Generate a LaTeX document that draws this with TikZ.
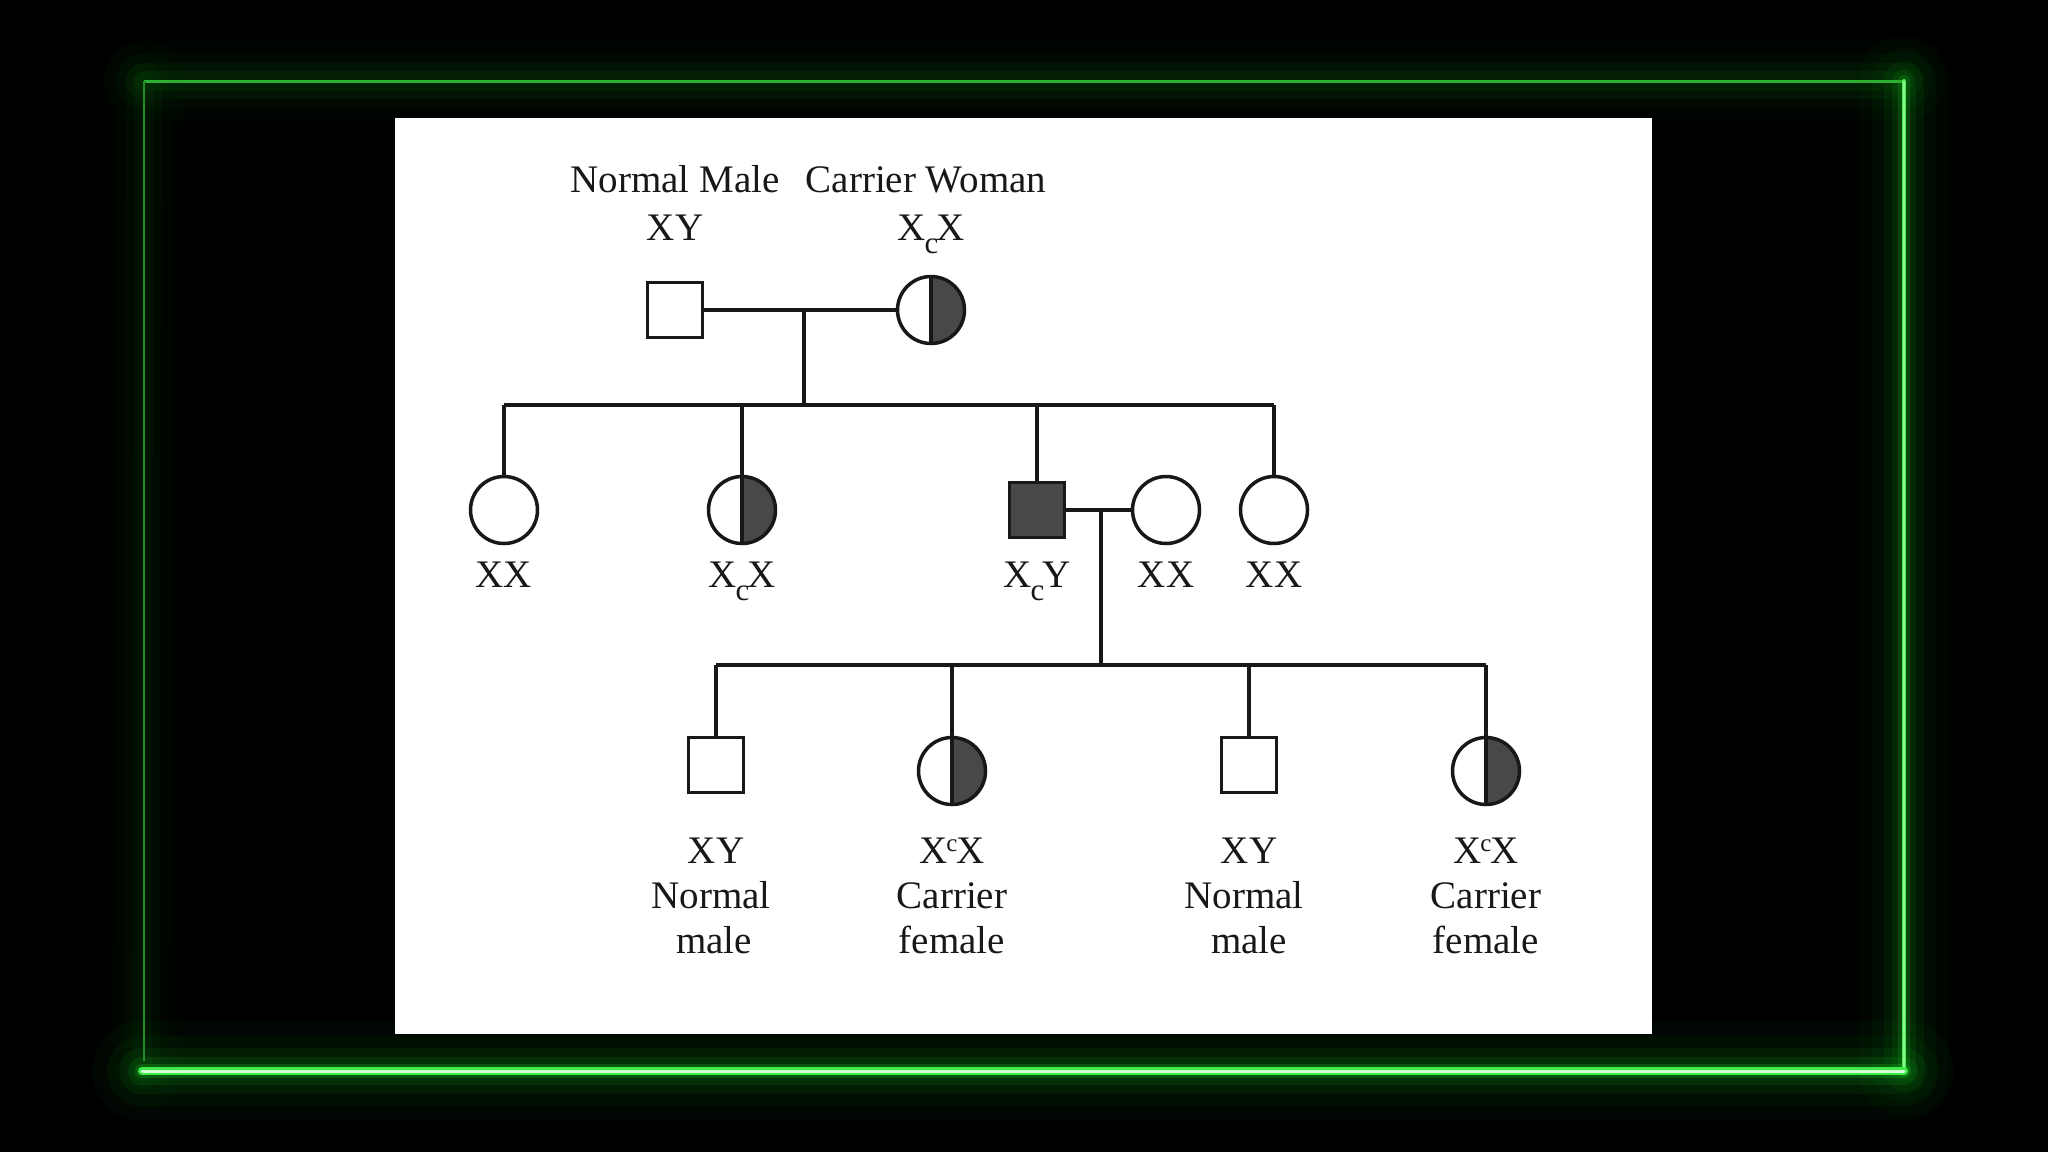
\documentclass[tikz,border=0pt]{standalone}
\usepackage{fontspec}
\setmainfont{Liberation Serif}
\usetikzlibrary{calc}
\definecolor{darkfill}{RGB}{72,72,72}
\definecolor{ink}{RGB}{24,24,24}
\definecolor{glowg}{RGB}{20,190,30}
\definecolor{topg}{RGB}{45,175,50}
\definecolor{leftg}{RGB}{35,140,40}
\definecolor{rightg}{RGB}{70,235,80}
\definecolor{botg}{RGB}{60,235,70}
\definecolor{botcore}{RGB}{215,255,215}
\newcommand{\subc}{\kern-1pt\raisebox{-13pt}{\fontsize{31}{31}\selectfont c}\kern-2pt}
\newcommand{\supc}{\kern-1pt\raisebox{12pt}{\fontsize{25}{25}\selectfont c}\kern-1pt}
\begin{document}
\begin{tikzpicture}[x=1pt,y=-1pt,
  conn/.style={line width=3.5pt, draw=ink},
  malebox/.style={conn, rectangle, minimum width=55pt, minimum height=55pt, inner sep=0pt, fill=white},
  affbox/.style={malebox, fill=darkfill},
  femcirc/.style={conn, circle, minimum size=67pt, inner sep=0pt, fill=white},
  carcirc/.style={femcirc, path picture={
      \fill[darkfill] (path picture bounding box.north) rectangle (path picture bounding box.south east);
      \draw[line width=3.5pt, ink] (path picture bounding box.north) -- (path picture bounding box.south);}},
  lbl/.style={font=\fontsize{39}{46}\selectfont, text=ink, inner sep=0pt, anchor=base},
  glow/.style={draw=glowg, line cap=round}
]
\useasboundingbox (0,0) rectangle (2048,1152);
\fill[black] (0,0) rectangle (2048,1152);

% neon frame
\coordinate (TL) at (144,81);
\coordinate (TR) at (1904,81);
\coordinate (BR) at (1904,1071);
\coordinate (BL) at (142,1071);
% soft glow
\foreach \w/\o in {80/0.025,56/0.035,36/0.05,20/0.07}{
  \draw[glow, line width=\w pt, opacity=\o] (TL) -- (TR);
  \draw[glow, line width=\w pt, opacity=0.6*\o] (TL) -- (BL);
}
\foreach \w/\o in {90/0.03,64/0.045,40/0.07,24/0.1,12/0.2}{
  \draw[glow, line width=\w pt, opacity=\o] (TR) -- (BR);
}
\foreach \w/\o in {100/0.035,70/0.05,46/0.08,28/0.13,14/0.25}{
  \draw[glow, line width=\w pt, opacity=\o] (BL) -- (BR);
}
\draw[line width=3pt, topg] (TL) -- (TR);
\draw[line width=2pt, leftg] (TL) -- ($(BL)+(2,-10)$);
\draw[line width=4pt, rightg, line cap=round] (TR) -- (BR);
\draw[line width=1.6pt, botcore!50!rightg] (TR) -- (BR);
\draw[line width=8pt, botg, line cap=round] (BL) -- (BR);
\draw[line width=3pt, botcore, line cap=round] (BL) -- (BR);

% white panel
\fill[white] (395,118) rectangle (1652,1034);

% generation I
\node[malebox] (p1) at (675,310) {};
\node[carcirc] (p2) at (931,310) {};
\node[lbl] (t1) at (675,192) {Normal Male};
\node[lbl] (t2) at (926,192) {Carrier Woman};
\node[lbl] (g1) at (675,240) {XY};
\node[lbl] (g2) at (931,240) {X\subc X};
\coordinate (m1) at (804,310);
\coordinate (s1) at (804,405);
\draw[conn] (p1.east) -- (p2.west);
\draw[conn] (m1) -- (s1);

% generation II
\node[femcirc] (a) at (504,510) {};
\node[carcirc] (b) at (742,510) {};
\node[affbox] (c) at (1037,510) {};
\node[femcirc] (d) at (1166,510) {};
\node[femcirc] (e) at (1274,510) {};
\draw[conn] (a.north |- s1) -- (e.north |- s1);
\foreach \n in {a,b,c,e}{
  \draw[conn] (\n.north |- s1) -- (\n.north);
}
\node[lbl] (la) at (504,587) {XX};
\node[lbl] (lb) at (742,587) {X\subc X};
\node[lbl] (lc) at (1037,587) {X\subc Y};
\node[lbl] (ld) at (1166,587) {XX};
\node[lbl] (le) at (1274,587) {XX};
\coordinate (m2) at (1101,510);
\coordinate (s2) at (1101,665);
\draw[conn] (c.east) -- (d.west);
\draw[conn] (m2) -- (s2);

% generation III
\node[malebox] (f) at (716,765) {};
\node[carcirc] (g) at (952,771) {};
\node[malebox] (h) at (1249,765) {};
\node[carcirc] (k) at (1486,771) {};
\draw[conn] (f.north |- s2) -- (k.north |- s2);
\foreach \n in {f,g,h,k}{
  \draw[conn] (\n.north |- s2) -- (\n.north);
}
\node[lbl] (lf1) at (716,863) {XY};
\node[lbl] (lf2) at (711,908) {Normal};
\node[lbl] (lf3) at (714,953) {male};
\node[lbl] (lg1) at (952,863) {X\supc X};
\node[lbl] (lg2) at (952,908) {Carrier};
\node[lbl] (lg3) at (952,953) {female};
\node[lbl] (lh1) at (1249,863) {XY};
\node[lbl] (lh2) at (1244,908) {Normal};
\node[lbl] (lh3) at (1249,953) {male};
\node[lbl] (lk1) at (1486,863) {X\supc X};
\node[lbl] (lk2) at (1486,908) {Carrier};
\node[lbl] (lk3) at (1486,953) {female};
\end{tikzpicture}
\end{document}
